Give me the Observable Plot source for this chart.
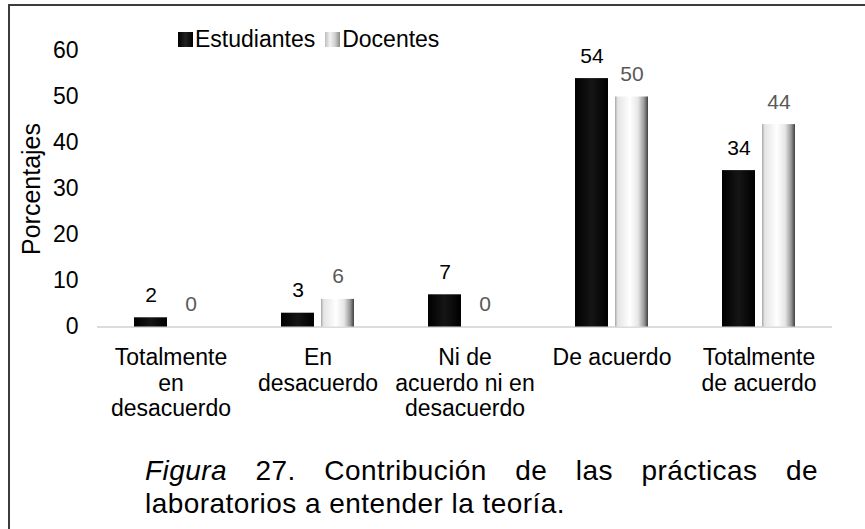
<!DOCTYPE html>
<html>
<head>
<meta charset="utf-8">
<script src="https://cdn.jsdelivr.net/npm/d3@7"></script>
<script src="https://cdn.jsdelivr.net/npm/@observablehq/plot@0.6"></script>
<style>
  html, body { margin: 0; padding: 0; background: #fff; width: 865px; height: 529px; overflow: hidden;
    font-family: "Liberation Sans", Arial, sans-serif; color: #000; }
  #frame { position: absolute; left: 8px; top: 4px; width: 1000px; height: 1000px;
    border-left: 2px solid #3c3c3c; border-top: 2px solid #3c3c3c; }
  #chart { position: absolute; left: 0; top: 0; }
  #legend { position: absolute; left: 178px; top: 27px; display: flex; align-items: center;
    font-size: 23px; line-height: 24px; white-space: nowrap; }
  .sw { width: 15px; height: 15px; display: inline-block; }
  #ylabel { position: absolute; left: 30.5px; top: 188.5px; transform: translate(-50%, -50%) rotate(-90deg);
    font-size: 25px; line-height: 25px; white-space: nowrap; }
  .cap { position: absolute; left: 145px; font-size: 28px; line-height: 33px; letter-spacing: 0.45px; }
  #cap1 { top: 454px; width: 673px; text-align: justify; text-align-last: justify; }
  #cap2 { top: 487px; }
</style>
</head>
<body>
<div id="frame"></div>
<div id="chart"></div>
<div id="ylabel">Porcentajes</div>
<div id="legend"></div>
<div class="cap" id="cap1"><i>Figura</i> 27. Contribución de las prácticas de</div>
<div class="cap" id="cap2">laboratorios a entender la teoría.</div>
<script>
const categories = ["Totalmente en desacuerdo", "En desacuerdo", "Ni de acuerdo ni en desacuerdo", "De acuerdo", "Totalmente de acuerdo"];
const tickLabels = ["Totalmente\nen\ndesacuerdo", "En\ndesacuerdo", "Ni de\nacuerdo ni en\ndesacuerdo", "De acuerdo", "Totalmente\nde acuerdo"];
const series = ["Estudiantes", "Docentes"];
const estudiantes = [2, 3, 7, 54, 34];
const docentes = [0, 6, 0, 50, 44];
const yTicks = [0, 10, 20, 30, 40, 50, 60];

const values = {Estudiantes: estudiantes, Docentes: docentes};
const rows = [];
categories.forEach((c, i) => series.forEach(s => rows.push({cat: c, series: s, value: values[s][i]})));

const fills = ["url(#gEst)", "url(#gDoc)"];
const labelColors = {Estudiantes: "#000000", Docentes: "#595959"};

const chart = Plot.plot({
  width: 865,
  height: 420,
  marginLeft: 96,
  marginRight: 33,
  marginTop: 50.5,
  marginBottom: 93.5,
  style: {fontFamily: "'Liberation Sans', Arial, sans-serif", background: "transparent", color: "#000"},
  fx: {domain: categories, padding: 0, label: null},
  x: {domain: series, paddingInner: 0.17, paddingOuter: 0.88, axis: null},
  y: {domain: [0, 60], label: null},
  color: {type: "ordinal", domain: series, range: fills},
  marks: [
    Plot.axisY(yTicks, {tickSize: 0, tickPadding: 19, fontSize: 23, label: null, fill: "#000"}),
    Plot.axisFx({anchor: "bottom", tickSize: 0, tickPadding: 20.5, fontSize: 23, lineHeight: 1.1,
      tickFormat: d => tickLabels[categories.indexOf(d)], label: null, fill: "#000"}),
    Plot.ruleY([0], {stroke: "#d0d0d0", strokeWidth: 1.5}),
    Plot.barY(rows, {fx: "cat", x: "series", y: "value", fill: "series"}),
    Plot.text(rows, {fx: "cat", x: "series", y: "value", text: d => String(d.value),
      lineAnchor: "bottom", dy: -16, fontSize: 21, fill: d => labelColors[d.series]})
  ]
});

const svg = d3.select(chart);
const defs = svg.insert("defs", ":first-child");
const gEst = defs.append("linearGradient").attr("id", "gEst").attr("x1", 0).attr("x2", 1).attr("y1", 0).attr("y2", 0);
[[0, "#000"], [0.5, "#151515"], [1, "#000"]].forEach(([o, c]) => gEst.append("stop").attr("offset", o).attr("stop-color", c));
const gDoc = defs.append("linearGradient").attr("id", "gDoc").attr("x1", 0).attr("x2", 1).attr("y1", 0).attr("y2", 0);
[[0, "#a6a6a6"], [0.08, "#e4e4e4"], [0.45, "#ffffff"], [0.7, "#e6e6e6"], [0.88, "#9a9a9a"], [1, "#404040"]]
  .forEach(([o, c]) => gDoc.append("stop").attr("offset", o).attr("stop-color", c));

document.getElementById("chart").appendChild(chart);

const legend = d3.select("#legend");
const swatchBg = {Estudiantes: "linear-gradient(90deg,#000,#222,#000)", Docentes: "linear-gradient(90deg,#bdbdbd,#f2f2f2,#d0d0d0,#8a8a8a)"};
series.forEach((s, i) => {
  legend.append("span").attr("class", "sw").style("background", swatchBg[s]).style("margin-left", i ? "10px" : "0px").style("margin-right", "2px");
  legend.append("span").text(s);
});
</script>
</body>
</html>
